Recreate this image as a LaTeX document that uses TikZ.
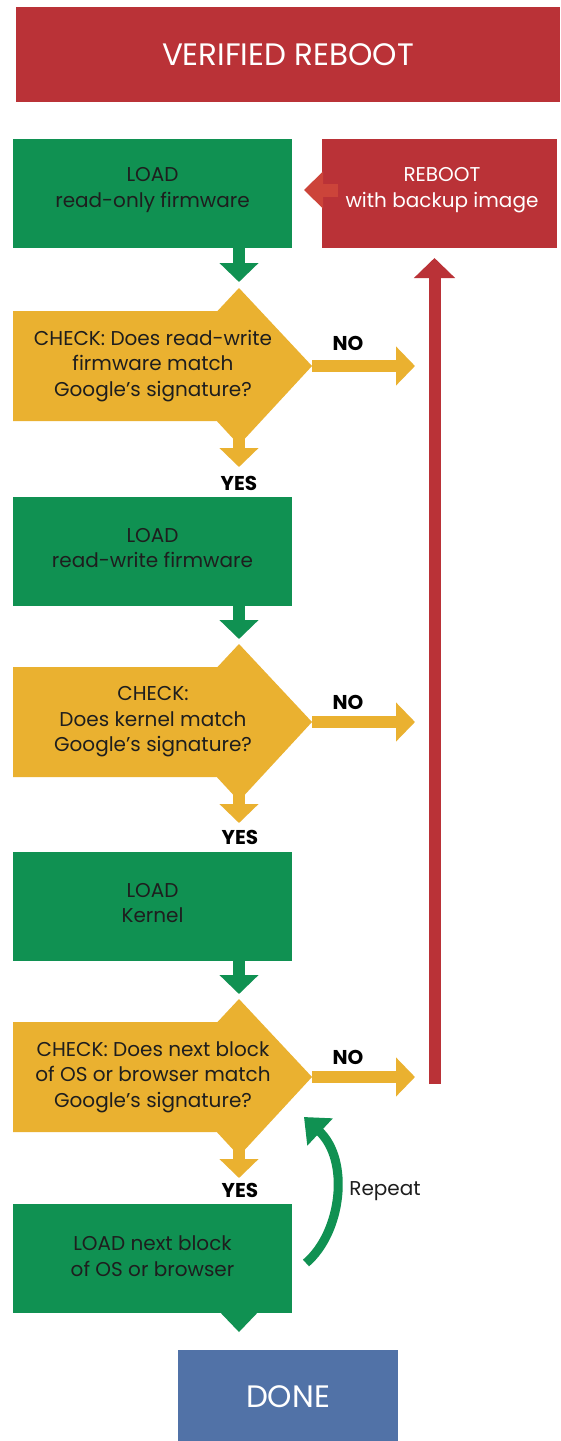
\documentclass[tikz,border=0pt]{standalone}
\usepackage{fontspec}
\setmainfont{Poppins}
\usetikzlibrary{arrows.meta}
\definecolor{ggreen}{RGB}{16,145,82}
\definecolor{gyel}{RGB}{234,177,48}
\definecolor{gred}{RGB}{186,50,55}
\definecolor{lred}{RGB}{204,68,58}
\definecolor{gblue}{RGB}{81,114,167}
\definecolor{tdark}{RGB}{30,30,30}
\newcommand\decisionshape[1]{\fill[gyel] (13,#1-55) -- (217.5,#1-55) -- (239,#1-78) -- (312,#1) -- (239,#1+79) -- (216.8,#1+55) -- (13,#1+55) -- cycle;}
\begin{document}
\begin{tikzpicture}[x=1pt,y=-1pt,
  txt/.style={font=\fontsize{20}{25.5}\selectfont, text=tdark, align=center},
  wtxt/.style={font=\fontsize{20}{25.5}\selectfont, text=white, align=center},
  big/.style={font=\fontsize{31}{36}\selectfont, text=white, align=center},
  lbl/.style={font=\fontsize{20}{23}\selectfont\bfseries, text=black},
  gbox/.style={fill=ggreen, minimum width=279pt, minimum height=109pt, inner sep=0pt},
  garrow/.style={draw=ggreen, line width=12pt, -{Triangle[width=38pt,length=19pt]}},
  yarrow/.style={draw=gyel, line width=12pt, -{Triangle[width=38pt,length=19pt]}},
  rarrow/.style={draw=gred, line width=12pt, -{Triangle[width=40pt,length=20pt]}},
  lrarrow/.style={draw=lred, line width=13pt, -{Triangle[width=36pt,length=19pt]}},
  looparrow/.style={draw=ggreen, line width=9pt, -{Triangle[width=36pt,length=22pt]}}
]
\useasboundingbox (0,0) rectangle (560,1441);
\fill[white] (0,0) rectangle (560,1441);

% title
\node[fill=gred, minimum width=544pt, minimum height=95pt, inner sep=0pt, big] (title) at (288,54.5) {VERIFIED REBOOT};

% boxes
\node[gbox] (load1) at (152.5,193.5) {};
\node[txt] (t1) at (152.5,190) {LOAD\\read-only firmware};
\node[fill=gred, minimum width=235pt, minimum height=109pt, inner sep=0pt] (reboot) at (439.5,193.5) {};
\node[wtxt] (t0) at (442,190) {REBOOT\\with backup image};
\node[gbox] (load2) at (152.5,551.5) {};
\node[txt] (t2) at (152.5,548) {LOAD\\read-write firmware};
\node[gbox] (load3) at (152.5,906.5) {};
\node[txt] (t3) at (152.5,903) {LOAD\\Kernel};
\node[gbox] (load4) at (152.5,1258.5) {};
\node[txt] (t4) at (152.5,1256) {LOAD next block\\of OS or browser};

% decisions
\decisionshape{366}
\decisionshape{722}
\decisionshape{1077}
\node[txt] (check1) at (153,366) {CHECK: Does read-write\\firmware match\\Google’s signature?};
\node[txt] (check2) at (153,722) {CHECK:\\Does kernel match\\Google’s signature?};
\node[txt] (check3) at (153,1077) {CHECK: Does next block\\of OS or browser match\\Google’s signature?};

% coordinates
\coordinate (g1) at (239,282);
\coordinate (g2) at (239,639);
\coordinate (g3) at (239,994);
\coordinate (d1r) at (312,366);
\coordinate (d2r) at (312,722);
\coordinate (d3r) at (312,1077);
\coordinate (n1) at (415,366);
\coordinate (n2) at (415,722);
\coordinate (n3) at (415,1077);
\coordinate (y1s) at (239,420);
\coordinate (y1) at (239,467);
\coordinate (y2s) at (239,776);
\coordinate (y2) at (239,823);
\coordinate (y3s) at (239,1131);
\coordinate (y3) at (239,1178);
\coordinate (rbot) at (434.5,1084);
\coordinate (rtop) at (434.5,258);
\coordinate (rbs) at (338,190);
\coordinate (rbt) at (304,190);
\coordinate (lps) at (306,1263);
\coordinate (lpe) at (304,1117);

% green arrows from boxes
\draw[garrow] (load1.south -| g1) -- (g1);
\draw[garrow] (load2.south -| g2) -- (g2);
\draw[garrow] (load3.south -| g3) -- (g3);
\fill[ggreen] (load4.south -| 221,0) -- (load4.south -| 257,0) -- (239,1332) -- cycle;

% yes arrows
\draw[yarrow] (y1s) -- (y1);
\draw[yarrow] (y2s) -- (y2);
\draw[yarrow] (y3s) -- (y3);
\node[lbl] (yes1) at (239,483) {YES};
\node[lbl] (yes2) at (240,837) {YES};
\node[lbl] (yes3) at (240,1190) {YES};

% no arrows
\draw[yarrow] (d1r) -- (n1);
\draw[yarrow] (d2r) -- (n2);
\draw[yarrow] (d3r) -- (n3);
\node[lbl] (no1) at (348,343) {NO};
\node[lbl] (no2) at (348,702) {NO};
\node[lbl] (no3) at (348,1057) {NO};

% red return arrow
\draw[rarrow] (rbot) -- (rtop);
\draw[lrarrow] (rbs) -- (rbt);

% repeat loop
\draw[looparrow] (lps) .. controls (342,1232) and (350,1160) .. (lpe);
\node[font=\fontsize{20}{24}\selectfont, text=tdark] (repeat) at (385,1191) {Repeat};

% done
\node[fill=gblue, minimum width=220pt, minimum height=92pt, inner sep=0pt, big, anchor=north] (done) at (288,1350) {DONE};
\end{tikzpicture}
\end{document}
